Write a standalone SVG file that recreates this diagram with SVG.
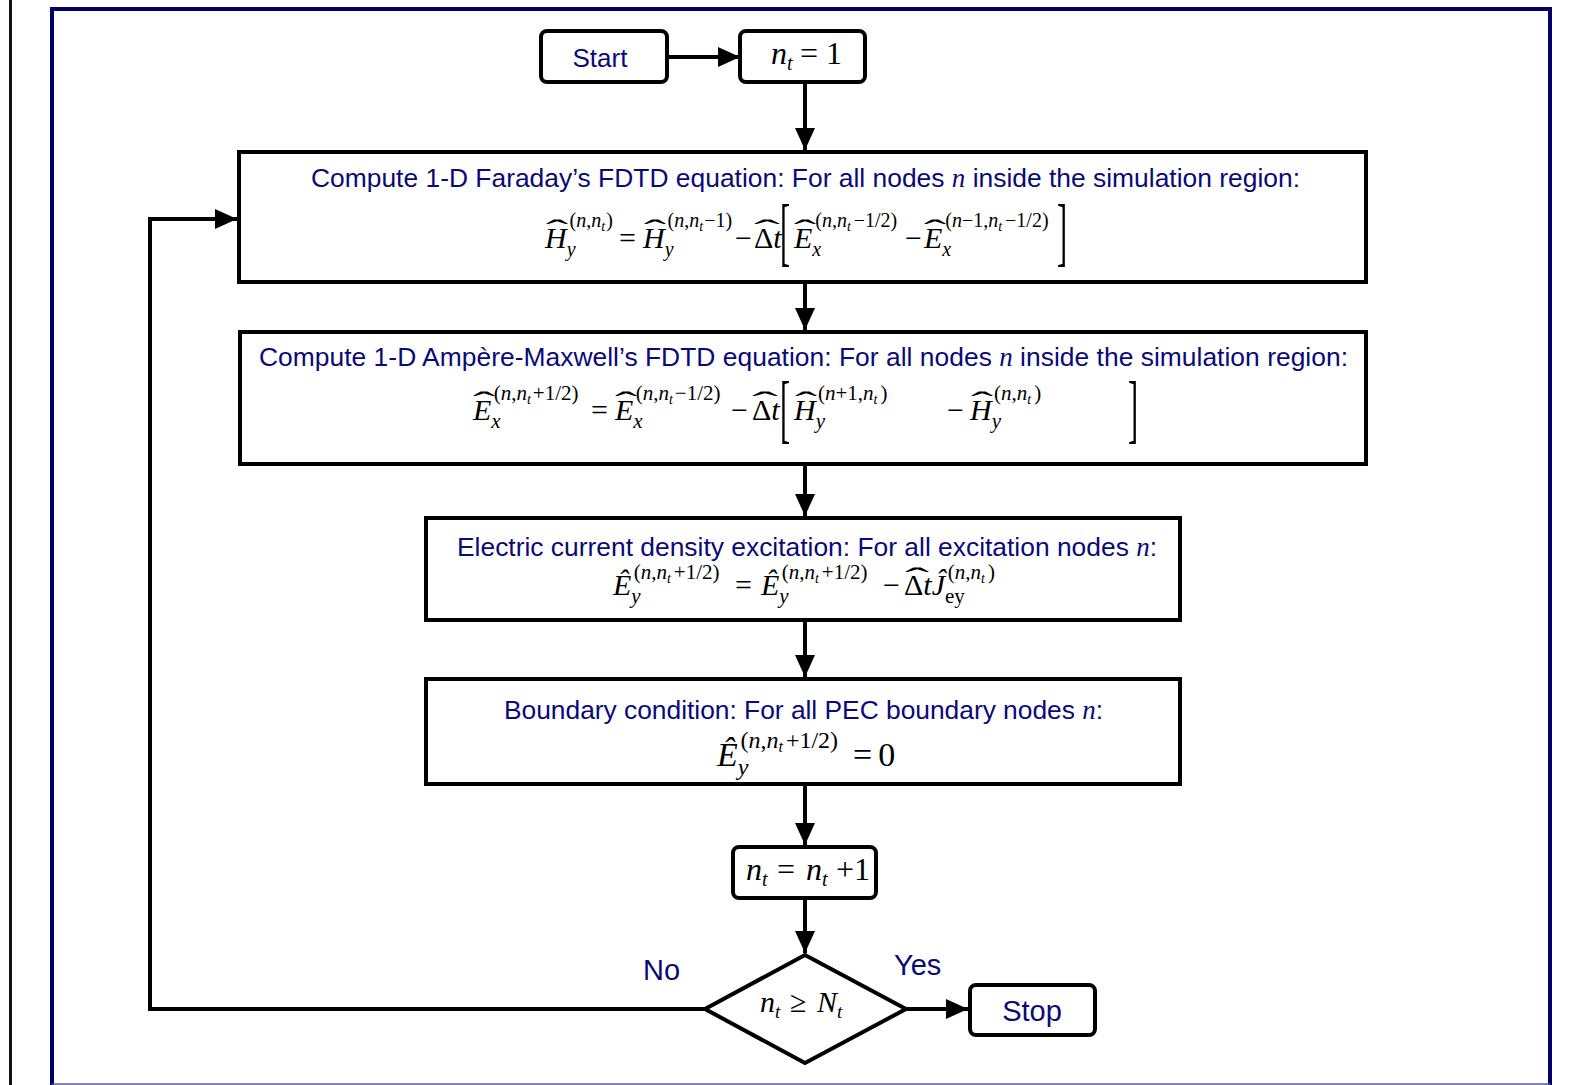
<svg xmlns="http://www.w3.org/2000/svg" width="1587" height="1085" viewBox="0 0 1587 1085">
<style>
.t{font-family:"Liberation Sans",Arial,sans-serif;fill:#0a0a78}
.m{font-family:"Liberation Serif","Times New Roman",serif;fill:#000}
.i{font-style:italic}
.box{fill:#fff;stroke:#000;stroke-width:4}
.con{fill:none;stroke:#000;stroke-width:4}
.ss{font-size:14px;font-style:italic}
</style>
<defs>
<marker id="ah" markerUnits="userSpaceOnUse" markerWidth="24" markerHeight="20" refX="22" refY="10" orient="auto">
<path d="M0,0 L22,10 L0,20 Z" fill="#000"/>
</marker>
</defs>
<rect width="1587" height="1085" fill="#fff"/>
<line x1="10.5" y1="0" x2="10.5" y2="1085" stroke="#111" stroke-width="3"/>
<path d="M52,1086 V9 H1550 V1086" fill="none" stroke="#000066" stroke-width="4"/>
<line x1="52" y1="1084" x2="1550" y2="1084" stroke="#5a5aa0" stroke-width="1.5"/>

<g id="connectors">
<line class="con" x1="667" y1="57" x2="740" y2="57" marker-end="url(#ah)"/>
<line class="con" x1="805" y1="82" x2="805" y2="150" marker-end="url(#ah)"/>
<line class="con" x1="805" y1="282" x2="805" y2="330" marker-end="url(#ah)"/>
<line class="con" x1="805" y1="464" x2="805" y2="516" marker-end="url(#ah)"/>
<line class="con" x1="805" y1="620" x2="805" y2="677" marker-end="url(#ah)"/>
<line class="con" x1="805" y1="784" x2="805" y2="845" marker-end="url(#ah)"/>
<line class="con" x1="805" y1="898" x2="805" y2="953" marker-end="url(#ah)"/>
<line class="con" x1="906" y1="1009" x2="968" y2="1009" marker-end="url(#ah)"/>
<polyline class="con" points="705,1009 150,1009 150,219 237,219" marker-end="url(#ah)"/>
<text class="t" x="643" y="980" font-size="29">No</text>
<text class="t" x="894" y="975" font-size="29">Yes</text>
</g>

<g id="start">
<rect class="box" x="541" y="31" width="126" height="51" rx="6"/>
<text class="t" x="600" y="67" font-size="26" text-anchor="middle">Start</text>
</g>

<g id="init">
<rect class="box" x="740" y="31" width="125" height="51" rx="6"/>
<text class="m" y="64" font-size="32"><tspan class="i" x="771">n</tspan><tspan class="i" font-size="20" dy="6">t</tspan><tspan x="800" dy="-6">=</tspan><tspan x="826">1</tspan></text>
</g>

<g id="faraday">
<rect class="box" x="239" y="152" width="1127" height="130"/>
<text class="t" x="311" y="187" font-size="26.4" textLength="989">Compute 1-D Faraday’s FDTD equation: For all nodes <tspan class="m i" style="fill:#0a0a78" font-size="27">n</tspan> inside the simulation region:</text>
<g class="m">
<text x="545" y="248" font-size="30"><tspan class="i">H</tspan><tspan class="i" font-size="20" dy="8">y</tspan><tspan font-size="20" dx="-6" dy="-29">(<tspan class="i">n</tspan>,<tspan class="i">n</tspan><tspan class="ss" dy="4">t</tspan><tspan dx="1" dy="-4">)</tspan></tspan></text>
<text transform="translate(557,240) scale(2.2,1)" font-size="30" text-anchor="middle">ˆ</text>
<text x="619" y="248" font-size="30">=</text>
<text x="643" y="248" font-size="30"><tspan class="i">H</tspan><tspan class="i" font-size="20" dy="8">y</tspan><tspan font-size="20" dx="-6" dy="-29">(<tspan class="i">n</tspan>,<tspan class="i">n</tspan><tspan class="ss" dy="4">t</tspan><tspan dx="1" dy="-4">−1)</tspan></tspan></text>
<text transform="translate(655,240) scale(2.2,1)" font-size="30" text-anchor="middle">ˆ</text>
<text x="735" y="248" font-size="30">−</text>
<text x="754" y="248" font-size="30">Δ<tspan class="i">t</tspan></text>
<text transform="translate(767,240) scale(2.6,1)" font-size="30" text-anchor="middle">ˆ</text>
<text transform="translate(780,257) scale(0.4,1)" font-size="76">[</text>
<text x="794" y="248" font-size="30"><tspan class="i">E</tspan><tspan class="i" font-size="20" dy="8">x</tspan><tspan font-size="20" dx="-6" dy="-29">(<tspan class="i">n</tspan>,<tspan class="i">n</tspan><tspan class="ss" dy="4">t</tspan><tspan dx="3" dy="-4">−1/2)</tspan></tspan></text>
<text transform="translate(805,240) scale(2.2,1)" font-size="30" text-anchor="middle">ˆ</text>
<text x="905" y="248" font-size="30">−</text>
<text x="924" y="248" font-size="30"><tspan class="i">E</tspan><tspan class="i" font-size="20" dy="8">x</tspan><tspan font-size="20" dx="-6" dy="-29">(<tspan class="i">n</tspan>−1,<tspan class="i">n</tspan><tspan class="ss" dy="4">t</tspan><tspan dx="3" dy="-4">−1/2)</tspan></tspan></text>
<text transform="translate(935,240) scale(2.2,1)" font-size="30" text-anchor="middle">ˆ</text>
<text transform="translate(1057,257) scale(0.4,1)" font-size="76">]</text>
</g>
</g>

<g id="ampere">
<rect class="box" x="240" y="332" width="1126" height="132"/>
<text class="t" x="259" y="366" font-size="26.4" textLength="1089">Compute 1-D Ampère-Maxwell’s FDTD equation: For all nodes <tspan class="m i" style="fill:#0a0a78" font-size="27">n</tspan> inside the simulation region:</text>
<g class="m">
<text x="473" y="420" font-size="30"><tspan class="i">E</tspan><tspan class="i" font-size="21" dy="8">x</tspan><tspan font-size="21" dx="-7" dy="-28">(<tspan class="i">n</tspan>,<tspan class="i">n</tspan><tspan class="ss" dy="4">t</tspan><tspan dx="2" dy="-4">+1/2)</tspan></tspan></text>
<text transform="translate(484,412) scale(2.2,1)" font-size="30" text-anchor="middle">ˆ</text>
<text x="591" y="420" font-size="30">=</text>
<text x="615" y="420" font-size="30"><tspan class="i">E</tspan><tspan class="i" font-size="21" dy="8">x</tspan><tspan font-size="21" dx="-7" dy="-28">(<tspan class="i">n</tspan>,<tspan class="i">n</tspan><tspan class="ss" dy="4">t</tspan><tspan dx="2" dy="-4">−1/2)</tspan></tspan></text>
<text transform="translate(626,412) scale(2.2,1)" font-size="30" text-anchor="middle">ˆ</text>
<text x="731" y="420" font-size="30">−</text>
<text x="752" y="420" font-size="30">Δ<tspan class="i">t</tspan></text>
<text transform="translate(765,412) scale(2.6,1)" font-size="30" text-anchor="middle">ˆ</text>
<text transform="translate(780,434) scale(0.4,1)" font-size="76">[</text>
<text x="794" y="420" font-size="30"><tspan class="i">H</tspan><tspan class="i" font-size="21" dy="8">y</tspan><tspan font-size="21" dx="-7" dy="-28">(<tspan class="i">n</tspan>+1,<tspan class="i">n</tspan><tspan class="ss" dy="4">t</tspan><tspan dx="3" dy="-4">)</tspan></tspan></text>
<text transform="translate(806,412) scale(2.2,1)" font-size="30" text-anchor="middle">ˆ</text>
<text x="947" y="420" font-size="30">−</text>
<text x="970" y="420" font-size="30"><tspan class="i">H</tspan><tspan class="i" font-size="21" dy="8">y</tspan><tspan font-size="21" dx="-7" dy="-28">(<tspan class="i">n</tspan>,<tspan class="i">n</tspan><tspan class="ss" dy="4">t</tspan><tspan dx="3" dy="-4">)</tspan></tspan></text>
<text transform="translate(982,412) scale(2.2,1)" font-size="30" text-anchor="middle">ˆ</text>
<text transform="translate(1128,434) scale(0.4,1)" font-size="76">]</text>
</g>
</g>

<g id="excitation">
<rect class="box" x="426" y="518" width="754" height="102"/>
<text class="t" x="457" y="556" font-size="26.4" textLength="700">Electric current density excitation: For all excitation nodes <tspan class="m i" style="fill:#0a0a78" font-size="27">n</tspan>:</text>
<g class="m">
<text x="613" y="595" font-size="30"><tspan class="i">Ê</tspan><tspan class="i" font-size="21" dy="8">y</tspan><tspan font-size="21" dx="-7" dy="-24">(<tspan class="i">n</tspan>,<tspan class="i">n</tspan><tspan class="ss" dy="4">t</tspan><tspan dx="3" dy="-4">+1/2)</tspan></tspan></text>
<text x="735" y="595" font-size="30">=</text>
<text x="761" y="595" font-size="30"><tspan class="i">Ê</tspan><tspan class="i" font-size="21" dy="8">y</tspan><tspan font-size="21" dx="-7" dy="-24">(<tspan class="i">n</tspan>,<tspan class="i">n</tspan><tspan class="ss" dy="4">t</tspan><tspan dx="3" dy="-4">+1/2)</tspan></tspan></text>
<text x="883" y="595" font-size="30">−</text>
<text x="904" y="595" font-size="30">Δ<tspan class="i">t</tspan><tspan class="i">Ĵ</tspan><tspan font-size="21" dy="8">ey</tspan><tspan font-size="21" dx="-17" dy="-24">(<tspan class="i">n</tspan>,<tspan class="i">n</tspan><tspan class="ss" dy="4">t</tspan><tspan dx="3" dy="-4">)</tspan></tspan></text>
<text transform="translate(917,588) scale(2.4,1)" font-size="30" text-anchor="middle">ˆ</text>
</g>
</g>

<g id="boundary">
<rect class="box" x="426" y="679" width="754" height="105"/>
<text class="t" x="504" y="719" font-size="26.4" textLength="599">Boundary condition: For all PEC boundary nodes <tspan class="m i" style="fill:#0a0a78" font-size="27">n</tspan>:</text>
<g class="m">
<text x="717" y="766" font-size="34"><tspan class="i">Ê</tspan><tspan class="i" font-size="24" dy="9">y</tspan><tspan font-size="24" dx="-8" dy="-27">(<tspan class="i">n</tspan>,<tspan class="i">n</tspan><tspan class="i" font-size="16" dy="4">t</tspan><tspan dx="3" dy="-4">+1/2)</tspan></tspan></text>
<text x="853" y="766" font-size="34">=<tspan dx="6">0</tspan></text>
</g>
</g>

<g id="increment">
<rect class="box" x="733" y="847" width="143" height="51" rx="6"/>
<text class="m" y="880" font-size="32"><tspan class="i" x="746">n</tspan><tspan class="i" font-size="20" dy="6">t</tspan><tspan x="777" dy="-6">=</tspan><tspan class="i" x="806">n</tspan><tspan class="i" font-size="20" dy="6">t</tspan><tspan x="836" dy="-6">+1</tspan></text>
</g>

<g id="decision">
<polygon points="805,955 906,1009 805,1063 705,1009" fill="#fff" stroke="#000" stroke-width="4"/>
<text class="m" y="1012" font-size="30"><tspan class="i" x="760">n</tspan><tspan class="i" font-size="19" dy="6">t</tspan><tspan x="790" dy="-6">≥</tspan><tspan class="i" x="817">N</tspan><tspan class="i" font-size="19" dy="6">t</tspan></text>
</g>

<g id="stop">
<rect class="box" x="970" y="985" width="125" height="50" rx="6"/>
<text class="t" x="1032" y="1021" font-size="29" text-anchor="middle">Stop</text>
</g>
</svg>
